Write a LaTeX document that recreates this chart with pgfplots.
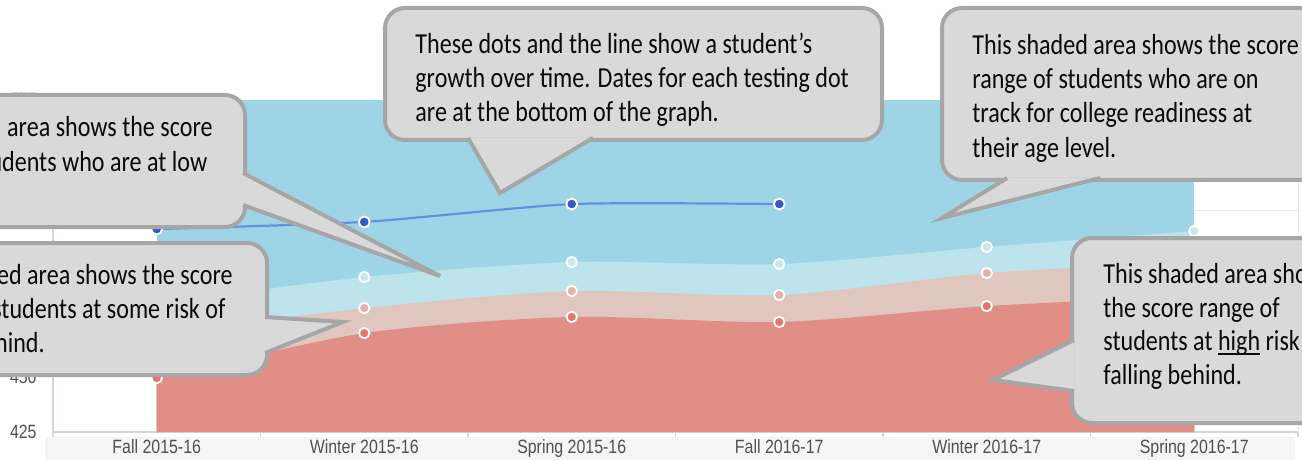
\documentclass[border=0pt]{standalone}
\usepackage{fontspec}
\setmainfont{Carlito}
\newfontfamily\arialf{Liberation Sans}
\usepackage{graphicx}
\usepackage{pgfplots}
\pgfplotsset{compat=1.18}

\definecolor{cTrack}{RGB}{158,213,230}
\definecolor{cLow}{RGB}{189,228,236}
\definecolor{cSome}{RGB}{223,199,192}
\definecolor{cHigh}{RGB}{225,143,134}
\definecolor{cLowDot}{RGB}{200,232,240}
\definecolor{cSomeDot}{RGB}{226,178,168}
\definecolor{cHighDot}{RGB}{226,118,108}
\definecolor{lineBlue}{RGB}{100,146,224}
\definecolor{dotBlue}{RGB}{52,88,200}
\definecolor{gridc}{RGB}{232,232,232}
\definecolor{axisc}{RGB}{204,214,235}
\definecolor{tickc}{RGB}{80,80,80}
\definecolor{bandc}{RGB}{245,245,245}
\definecolor{cFill}{RGB}{217,217,217}
\definecolor{cBorder}{RGB}{166,166,166}
\definecolor{cText}{RGB}{10,10,10}

\newcommand{\calfont}{\fontsize{14.5}{17}\selectfont}
\newcommand{\cttext}[1]{\scalebox{0.83}[1]{#1}}
\newcommand{\tlab}[1]{\scalebox{0.83}[1]{#1}}
\newcommand{\ulthick}[1]{\setbox0\hbox{#1}\rlap{\raisebox{-2.4pt}{\rule{\wd0}{0.9pt}}}\box0\relax}

\tikzset{
  cbox/.style={fill=cFill, draw=cBorder, line width=2pt, rounded corners=10pt},
  ctail/.style={fill=cFill, draw=cBorder, line width=2pt, line join=miter, miter limit=12},
  ctxt/.style={inner sep=0pt, font=\calfont, text=cText}
}

\begin{document}
\begin{tikzpicture}
\useasboundingbox (0pt,0pt) rectangle (651pt,-230pt);
\begin{scope}
\clip (0pt,0pt) rectangle (651pt,-230pt);
\fill[bandc] (22.5pt,-218.5pt) rectangle (647.5pt,-230pt);
\begin{axis}[
  at={(26.5pt,-216pt)}, anchor=south west,
  width=622.5pt, height=166pt, scale only axis,
  xmin=-0.5, xmax=5.5, ymin=425, ymax=575,
  xtick={0,1,2,3,4,5},
  xticklabels={\tlab{Fall 2015-16},\tlab{Winter 2015-16},\tlab{Spring 2015-16},\tlab{Fall 2016-17},\tlab{Winter 2016-17},\tlab{Spring 2016-17}},
  minor xtick={-0.5,0.5,1.5,2.5,3.5,4.5,5.5},
  ytick={425,450,475,500,525,550,575},
  axis x line*=bottom, axis y line*=left,
  axis line style={axisc, line width=0.6pt},
  tick align=outside,
  major tick length=0pt, minor tick length=2.5pt,
  minor tick style={axisc, line width=0.6pt},
  xminorgrids=true, ymajorgrids=true,
  minor grid style={gridc, line width=0.5pt},
  major grid style={gridc, line width=0.5pt},
  /pgf/number format/assume math mode=true,
  xticklabel style={font=\arialf\fontsize{9.6}{11}\selectfont, text=tickc, anchor=base, yshift=-10.5pt},
  yticklabel style={font=\arialf\fontsize{9.6}{11}\selectfont, text=tickc, anchor=east, inner sep=0pt, xshift=-8pt},
  yticklabel={\tlab{\pgfmathprintnumber{\tick}}},
]
\addplot[draw=none, fill=cTrack] coordinates {(0,575) (5,575)} \closedcycle;
\addplot[smooth, tension=0.45, draw=none, fill=cLow] coordinates {(0,483) (1,495) (2,501.8) (3,500.9) (4,508.6) (5,515.8)} \closedcycle;
\addplot[smooth, tension=0.45, draw=none, fill=cSome] coordinates {(0,469) (1,481) (2,488.7) (3,486.9) (4,496.8) (5,501.8)} \closedcycle;
\addplot[smooth, tension=0.45, draw=none, fill=cHigh] coordinates {(0,449.4) (1,469.7) (2,477.0) (3,474.7) (4,481.9) (5,486.4)} \closedcycle;
\addplot[only marks, mark=*, mark size=2.6pt, mark options={draw=white, line width=0.9pt, fill=cLowDot}] coordinates {(0,483) (1,495) (2,501.8) (3,500.9) (4,508.6) (5,515.8)};
\addplot[only marks, mark=*, mark size=2.6pt, mark options={draw=white, line width=0.9pt, fill=cSomeDot}] coordinates {(0,469) (1,481) (2,488.7) (3,486.9) (4,496.8) (5,501.8)};
\addplot[only marks, mark=*, mark size=2.6pt, mark options={draw=white, line width=0.9pt, fill=cHighDot}] coordinates {(0,449.4) (1,469.7) (2,477.0) (3,474.7) (4,481.9) (5,486.4)};
\addplot[smooth, tension=0.35, color=lineBlue, line width=1.1pt, mark=*, mark size=2.7pt, mark options={draw=white, fill=dotBlue, line width=0.9pt}] coordinates {(0,516.7) (1,519.9) (2,528.0) (3,528.0)};
\end{axis}

\begin{scope}[x=0.5pt, y=-0.5pt]
\draw[cbox] (-200,95) rectangle (245,227);
\filldraw[ctail] (243,173) -- (440,276) -- (243,205);
\node[ctxt, anchor=base east] (a1) at (213,137) {\cttext{This shaded area shows the score}};
\node[ctxt, anchor=base west] (a2) at ([yshift=-17pt]a1.base west) {\cttext{range of students who are at low}};
\node[ctxt, anchor=base west] at ([yshift=-17pt]a2.base west) {\cttext{risk.}};
\draw[cbox] (-200,243) rectangle (267,375);
\filldraw[ctail] (265,317) -- (343,322) -- (265,353);
\node[ctxt, anchor=base east] (b1) at (233,284) {\cttext{This shaded area shows the score}};
\node[ctxt, anchor=base west] (b2) at ([yshift=-17pt]b1.base west) {\cttext{range of students at some risk of}};
\node[ctxt, anchor=base west] at ([yshift=-17pt]b2.base west) {\cttext{falling behind.}};
\draw[cbox] (385,8) rectangle (882,140);
\filldraw[ctail] (468,138) -- (500,193) -- (593,138);
\node[ctxt, anchor=base west] at (415,54) {\cttext{These dots and the line show a student’s}};
\node[ctxt, anchor=base west] at (415,88) {\cttext{growth over time. Dates for each testing dot}};
\node[ctxt, anchor=base west] at (415,122) {\cttext{are at the bottom of the graph.}};
\draw[cbox] (942,8) rectangle (1400,180);
\filldraw[ctail] (1007,178) -- (942,218) -- (1100,178);
\node[ctxt, anchor=base west] at (972,55) {\cttext{This shaded area shows the score}};
\node[ctxt, anchor=base west] at (972,89) {\cttext{range of students who are on}};
\node[ctxt, anchor=base west] at (972,123) {\cttext{track for college readiness at}};
\node[ctxt, anchor=base west] at (972,157) {\cttext{their age level.}};
\draw[cbox] (1072,238) rectangle (1400,423);
\filldraw[ctail] (1074,340) -- (993,380) -- (1074,391);
\node[ctxt, anchor=base west] at (1103,283) {\cttext{This shaded area shows}};
\node[ctxt, anchor=base west] at (1103,317) {\cttext{the score range of}};
\node[ctxt, anchor=base west] at (1103,350) {\cttext{students at \ulthick{high} risk of}};
\node[ctxt, anchor=base west] at (1103,384) {\cttext{falling behind.}};
\end{scope}
\end{scope}
\end{tikzpicture}
\end{document}
